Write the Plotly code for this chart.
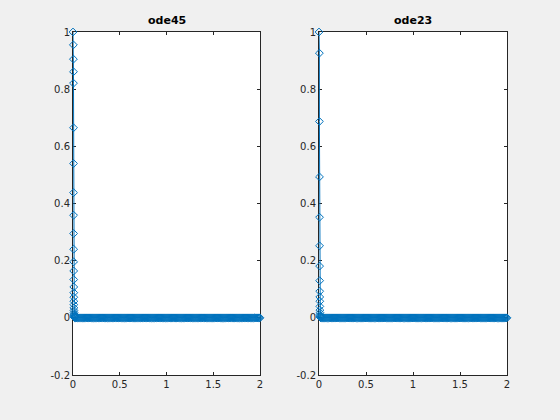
import plotly.graph_objects as go

# ---- data ----
# ode45: fast initial decay (t close to 0) then a long flat tail along y = 0
t45_head = [0.0, 0.004, 0.0045, 0.005, 0.0052, 0.0055, 0.0058, 0.006, 0.0063, 0.0066,
            0.0069, 0.0072, 0.0075, 0.0078, 0.0081, 0.0084, 0.0087, 0.009, 0.0093, 0.0096,
            0.010, 0.011, 0.012, 0.013, 0.014, 0.015, 0.016, 0.017]
y45_head = [1.0, 0.955, 0.905, 0.861, 0.821, 0.665, 0.540, 0.438, 0.359, 0.295,
            0.240, 0.196, 0.164, 0.134, 0.108, 0.088, 0.072, 0.058, 0.046, 0.035,
            0.026, 0.019, 0.013, 0.009, 0.006, 0.004, 0.002, 0.001]
t45_tail = [0.02, 0.03, 0.04, 0.05, 0.06, 0.07, 0.08, 0.09, 0.10, 0.11, 0.12, 0.13, 0.14, 0.15, 0.16, 0.17, 0.18, 0.19, 0.20,
            0.21, 0.22, 0.23, 0.24, 0.25, 0.26, 0.27, 0.28, 0.29, 0.30, 0.31, 0.32, 0.33, 0.34, 0.35, 0.36, 0.37, 0.38, 0.39, 0.40,
            0.41, 0.42, 0.43, 0.44, 0.45, 0.46, 0.47, 0.48, 0.49, 0.50, 0.51, 0.52, 0.53, 0.54, 0.55, 0.56, 0.57, 0.58, 0.59, 0.60,
            0.61, 0.62, 0.63, 0.64, 0.65, 0.66, 0.67, 0.68, 0.69, 0.70, 0.71, 0.72, 0.73, 0.74, 0.75, 0.76, 0.77, 0.78, 0.79, 0.80,
            0.81, 0.82, 0.83, 0.84, 0.85, 0.86, 0.87, 0.88, 0.89, 0.90, 0.91, 0.92, 0.93, 0.94, 0.95, 0.96, 0.97, 0.98, 0.99, 1.00,
            1.01, 1.02, 1.03, 1.04, 1.05, 1.06, 1.07, 1.08, 1.09, 1.10, 1.11, 1.12, 1.13, 1.14, 1.15, 1.16, 1.17, 1.18, 1.19, 1.20,
            1.21, 1.22, 1.23, 1.24, 1.25, 1.26, 1.27, 1.28, 1.29, 1.30, 1.31, 1.32, 1.33, 1.34, 1.35, 1.36, 1.37, 1.38, 1.39, 1.40,
            1.41, 1.42, 1.43, 1.44, 1.45, 1.46, 1.47, 1.48, 1.49, 1.50, 1.51, 1.52, 1.53, 1.54, 1.55, 1.56, 1.57, 1.58, 1.59, 1.60,
            1.61, 1.62, 1.63, 1.64, 1.65, 1.66, 1.67, 1.68, 1.69, 1.70, 1.71, 1.72, 1.73, 1.74, 1.75, 1.76, 1.77, 1.78, 1.79, 1.80,
            1.81, 1.82, 1.83, 1.84, 1.85, 1.86, 1.87, 1.88, 1.89, 1.90, 1.91, 1.92, 1.93, 1.94, 1.95, 1.96, 1.97, 1.98, 1.99, 2.00]
y45_tail = [0] * len(t45_tail)  # the tail lies on y = 0 across the whole range

# ode23
t23_head = [0.0, 0.004, 0.0045, 0.005, 0.0055, 0.006, 0.0065, 0.007, 0.0075, 0.008,
            0.0085, 0.009, 0.0095, 0.010, 0.011, 0.012, 0.014, 0.016]
y23_head = [1.0, 0.926, 0.687, 0.493, 0.352, 0.252, 0.181, 0.130, 0.093, 0.073,
            0.058, 0.040, 0.027, 0.018, 0.011, 0.006, 0.003, 0.001]
t23_tail = [0.02, 0.03, 0.04, 0.05, 0.06, 0.07, 0.08, 0.09, 0.10, 0.11, 0.12, 0.13, 0.14, 0.15, 0.16, 0.17, 0.18, 0.19, 0.20,
            0.21, 0.22, 0.23, 0.24, 0.25, 0.26, 0.27, 0.28, 0.29, 0.30, 0.31, 0.32, 0.33, 0.34, 0.35, 0.36, 0.37, 0.38, 0.39, 0.40,
            0.41, 0.42, 0.43, 0.44, 0.45, 0.46, 0.47, 0.48, 0.49, 0.50, 0.51, 0.52, 0.53, 0.54, 0.55, 0.56, 0.57, 0.58, 0.59, 0.60,
            0.61, 0.62, 0.63, 0.64, 0.65, 0.66, 0.67, 0.68, 0.69, 0.70, 0.71, 0.72, 0.73, 0.74, 0.75, 0.76, 0.77, 0.78, 0.79, 0.80,
            0.81, 0.82, 0.83, 0.84, 0.85, 0.86, 0.87, 0.88, 0.89, 0.90, 0.91, 0.92, 0.93, 0.94, 0.95, 0.96, 0.97, 0.98, 0.99, 1.00,
            1.01, 1.02, 1.03, 1.04, 1.05, 1.06, 1.07, 1.08, 1.09, 1.10, 1.11, 1.12, 1.13, 1.14, 1.15, 1.16, 1.17, 1.18, 1.19, 1.20,
            1.21, 1.22, 1.23, 1.24, 1.25, 1.26, 1.27, 1.28, 1.29, 1.30, 1.31, 1.32, 1.33, 1.34, 1.35, 1.36, 1.37, 1.38, 1.39, 1.40,
            1.41, 1.42, 1.43, 1.44, 1.45, 1.46, 1.47, 1.48, 1.49, 1.50, 1.51, 1.52, 1.53, 1.54, 1.55, 1.56, 1.57, 1.58, 1.59, 1.60,
            1.61, 1.62, 1.63, 1.64, 1.65, 1.66, 1.67, 1.68, 1.69, 1.70, 1.71, 1.72, 1.73, 1.74, 1.75, 1.76, 1.77, 1.78, 1.79, 1.80,
            1.81, 1.82, 1.83, 1.84, 1.85, 1.86, 1.87, 1.88, 1.89, 1.90, 1.91, 1.92, 1.93, 1.94, 1.95, 1.96, 1.97, 1.98, 1.99, 2.00]
y23_tail = [0] * len(t23_tail)  # the tail lies on y = 0 across the whole range

titles = ["ode45", "ode23"]
x_ticks = [0, 0.5, 1, 1.5, 2]
x_ticklabels = ["0", "0.5", "1", "1.5", "2"]
y_ticks = [-0.2, 0, 0.2, 0.4, 0.6, 0.8, 1]
y_ticklabels = ["-0.2", "0", "0.2", "0.4", "0.6", "0.8", "1"]

# ---- figure ----
COLOR = "#0072BD"
AX = "#262626"
FONT = "DejaVu Sans"

fig = go.Figure()
series = [(t45_head + t45_tail, y45_head + y45_tail, "x", "y"),
          (t23_head + t23_tail, y23_head + y23_tail, "x2", "y2")]
for t, y, xa, ya in series:
    fig.add_trace(go.Scatter(
        x=t, y=y, xaxis=xa, yaxis=ya, mode="lines+markers",
        line=dict(color=COLOR, width=1),
        marker=dict(symbol="diamond-open", size=6, color=COLOR, line=dict(width=1, color=COLOR)),
        cliponaxis=False, showlegend=False, hoverinfo="x+y"))

W, H = 560, 420
dom_x = [[73 / W, 260 / W], [319 / W, 507 / W]]
dom_y = [(H - 375) / H, (H - 32) / H]

common_x = dict(range=[0, 2], tickmode="array", tickvals=x_ticks, ticktext=x_ticklabels,
                ticks="inside", ticklen=3, tickcolor=AX, showline=True, linecolor=AX,
                linewidth=1, mirror="ticks", showgrid=False, zeroline=False, automargin=False,
                layer="below traces", tickfont=dict(family=FONT, size=10, color=AX))
common_y = dict(range=[-0.2, 1], tickmode="array", tickvals=y_ticks, ticktext=y_ticklabels,
                ticks="inside", ticklen=3, tickcolor=AX, showline=True, linecolor=AX,
                linewidth=1, mirror="ticks", showgrid=False, zeroline=False, automargin=False,
                layer="below traces", tickfont=dict(family=FONT, size=10, color=AX), domain=dom_y)

fig.update_layout(
    width=W, height=H,
    margin=dict(l=0, r=0, t=0, b=0, autoexpand=False),
    paper_bgcolor="#f0f0f0", plot_bgcolor="white",
    xaxis=dict(common_x, domain=dom_x[0], anchor="y"),
    yaxis=dict(common_y, anchor="x"),
    xaxis2=dict(common_x, domain=dom_x[1], anchor="y2"),
    yaxis2=dict(common_y, anchor="x2"),
    font=dict(family=FONT, size=10, color=AX),
)

for i, title in enumerate(titles):
    fig.add_annotation(
        text="<b>%s</b>" % title, xref="paper", yref="paper",
        x=(dom_x[i][0] + dom_x[i][1]) / 2, y=(H - 20) / H,
        xanchor="center", yanchor="middle", showarrow=False,
        font=dict(family=FONT, size=11, color="black"))

fig.write_html(
    "out.html",
    config={"displayModeBar": False},
    post_script="document.body.style.margin='0px';document.body.style.background='#f0f0f0';document.body.style.overflow='hidden';",
)
